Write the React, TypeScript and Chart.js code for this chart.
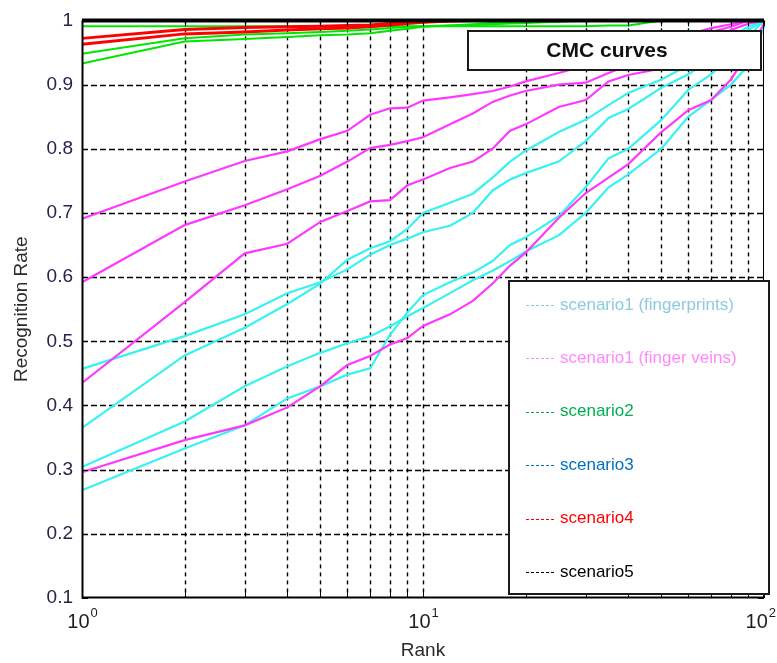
import React, { useEffect, useRef } from 'react';
import { Chart, registerables } from 'chart.js';
Chart.register(...registerables);

// ---------- data ----------
const ranks = [1, 2, 3, 4, 5, 6, 7, 8, 9, 10, 12, 14, 16, 18, 20, 25, 30, 35, 40, 50, 60, 70, 80, 90, 100];

// scenario1 (fingerprints) – four cyan curves
const fpA = [0.457, 0.508, 0.542, 0.575, 0.592, 0.612, 0.635, 0.650, 0.660, 0.670, 0.680, 0.700, 0.735, 0.752, 0.762, 0.780, 0.812, 0.848, 0.862, 0.895, 0.916, 0.940, 0.965, 0.985, 1.0];
const fpB = [0.365, 0.478, 0.521, 0.558, 0.590, 0.627, 0.645, 0.656, 0.675, 0.700, 0.716, 0.730, 0.755, 0.780, 0.797, 0.826, 0.845, 0.868, 0.887, 0.908, 0.930, 0.950, 0.975, 0.990, 1.0];
const fpC = [0.304, 0.375, 0.430, 0.461, 0.482, 0.497, 0.508, 0.523, 0.539, 0.552, 0.575, 0.595, 0.610, 0.625, 0.640, 0.665, 0.700, 0.740, 0.760, 0.800, 0.850, 0.876, 0.900, 0.930, 0.990];
const fpD = [0.268, 0.333, 0.369, 0.411, 0.430, 0.448, 0.458, 0.510, 0.545, 0.572, 0.592, 0.607, 0.625, 0.650, 0.662, 0.695, 0.740, 0.785, 0.800, 0.845, 0.892, 0.916, 0.945, 0.975, 1.0];

// scenario1 (finger veins) – four magenta curves
const fvA = [0.691, 0.749, 0.781, 0.796, 0.815, 0.828, 0.853, 0.863, 0.864, 0.875, 0.880, 0.885, 0.890, 0.897, 0.905, 0.918, 0.930, 0.940, 0.950, 0.965, 0.978, 0.988, 0.994, 1.0, 1.0];
const fvB = [0.592, 0.681, 0.712, 0.737, 0.758, 0.780, 0.801, 0.806, 0.812, 0.818, 0.838, 0.855, 0.873, 0.883, 0.890, 0.900, 0.903, 0.918, 0.930, 0.950, 0.968, 0.982, 0.990, 1.0, 1.0];
const fvC = [0.435, 0.561, 0.637, 0.652, 0.686, 0.703, 0.718, 0.720, 0.743, 0.752, 0.770, 0.780, 0.800, 0.828, 0.838, 0.865, 0.876, 0.905, 0.915, 0.925, 0.945, 0.968, 0.985, 0.995, 1.0];
const fvD = [0.296, 0.346, 0.369, 0.397, 0.430, 0.463, 0.477, 0.495, 0.505, 0.524, 0.542, 0.563, 0.590, 0.618, 0.638, 0.692, 0.731, 0.755, 0.776, 0.826, 0.860, 0.876, 0.908, 0.950, 0.995];

// scenario2 – three green curves
const sc2A = [0.991, 0.991, 0.991, 0.991, 0.991, 0.991, 0.991, 0.991, 0.991, 0.991, 0.991, 0.991, 0.991, 0.991, 0.991, 0.991, 0.991, 0.992, 0.992, 1.0, 1.0, 1.0, 1.0, 1.0, 1.0];
const sc2B = [0.948, 0.972, 0.978, 0.980, 0.982, 0.984, 0.986, 0.988, 0.990, 0.991, 0.992, 0.993, 0.994, 0.995, 0.996, 0.998, 1.0, 1.0, 1.0, 1.0, 1.0, 1.0, 1.0, 1.0, 1.0];
const sc2C = [0.933, 0.967, 0.971, 0.974, 0.977, 0.978, 0.980, 0.984, 0.987, 0.990, 0.992, 0.994, 0.996, 0.998, 1.0, 1.0, 1.0, 1.0, 1.0, 1.0, 1.0, 1.0, 1.0, 1.0, 1.0];

// scenario3 – blue
const sc3 = [1, 1, 1, 1, 1, 1, 1, 1, 1, 1, 1, 1, 1, 1, 1, 1, 1, 1, 1, 1, 1, 1, 1, 1, 1];

// scenario4 – red
const sc4A = [0.972, 0.986, 0.989, 0.990, 0.991, 0.992, 0.993, 0.995, 0.997, 0.998, 1.0, 1.0, 1.0, 1.0, 1.0, 1.0, 1.0, 1.0, 1.0, 1.0, 1.0, 1.0, 1.0, 1.0, 1.0];
const sc4B = [0.963, 0.979, 0.982, 0.985, 0.987, 0.988, 0.990, 0.993, 0.995, 0.997, 0.999, 1.0, 1.0, 1.0, 1.0, 1.0, 1.0, 1.0, 1.0, 1.0, 1.0, 1.0, 1.0, 1.0, 1.0];

// scenario5 – black
const sc5 = [1, 1, 1, 1, 1, 1, 1, 1, 1, 1, 1, 1, 1, 1, 1, 1, 1, 1, 1, 1, 1, 1, 1, 1, 1];

const xTickValues = [1, 2, 3, 4, 5, 6, 7, 8, 9, 10, 20, 30, 40, 50, 60, 70, 80, 90, 100];
const xLabelValues = [1, 10, 100];
const xLabelExponents = ['0', '1', '2'];

const legendLabels = [
  'scenario1 (fingerprints)',
  'scenario1 (finger veins)',
  'scenario2',
  'scenario3',
  'scenario4',
  'scenario5',
];
const legendColors = ['#8ccbdd', '#ff88ff', '#00b050', '#0070c0', '#ff0000', '#000000'];

const chartTitle = 'CMC curves';
const xTitle = 'Rank';
const yTitle = 'Recognition Rate';

const CYAN = '#38f2f2';
const MAGENTA = '#ff38ff';
const GREEN = '#00e600';
const RED = '#ff0000';
const BLUE = '#0000ff';
const BLACK = '#000000';

const FONT = "'Liberation Sans', Arial, sans-serif";

export default function App() {
  const ref = useRef<HTMLCanvasElement>(null);

  useEffect(() => {
    const mk = (vals: number[], color: string, width = 2.2) => ({
      data: ranks.map((r, i) => ({ x: r, y: vals[i] })),
      borderColor: color,
      backgroundColor: color,
      borderWidth: width,
      pointRadius: 0,
      tension: 0,
      fill: false,
      clip: 4,
    });

    // index 0 is drawn on top
    const datasets = [
      mk(sc5, BLACK, 4),
      mk(sc4A, RED, 3),
      mk(sc4B, RED, 3),
      mk(sc3, BLUE, 2),
      mk(sc2A, GREEN, 2),
      mk(sc2B, GREEN, 2),
      mk(sc2C, GREEN, 2),
      mk(fvA, MAGENTA),
      mk(fvB, MAGENTA),
      mk(fvC, MAGENTA),
      mk(fvD, MAGENTA),
      mk(fpA, CYAN),
      mk(fpB, CYAN),
      mk(fpC, CYAN),
      mk(fpD, CYAN),
    ];

    const overlay = {
      id: 'overlay',
      beforeDatasetsDraw(chart: any) {
        const { ctx, chartArea: a, scales } = chart;
        const x = scales.x;
        const y = scales.y;
        ctx.save();
        ctx.strokeStyle = '#000';
        ctx.lineWidth = 1.4;
        ctx.setLineDash([4, 4]);
        for (const t of x.ticks) {
          const px = Math.round(x.getPixelForValue(t.value)) + 0.5;
          if (px <= a.left + 2 || px >= a.right - 2) continue;
          ctx.beginPath();
          ctx.moveTo(px, a.top);
          ctx.lineTo(px, a.bottom);
          ctx.stroke();
        }
        ctx.setLineDash([6, 3]);
        for (const t of y.ticks) {
          const py = Math.round(y.getPixelForValue(t.value)) + 0.5;
          if (py <= a.top + 2 || py >= a.bottom - 2) continue;
          ctx.beginPath();
          ctx.moveTo(a.left, py);
          ctx.lineTo(a.right, py);
          ctx.stroke();
        }
        ctx.restore();
      },
      afterDatasetsDraw(chart: any) {
        const { ctx, chartArea: a, scales } = chart;
        const x = scales.x;
        const y = scales.y;
        ctx.save();
        // plot border
        ctx.setLineDash([]);
        ctx.strokeStyle = '#000';
        ctx.lineWidth = 1;
        ctx.strokeRect(Math.round(a.left) + 0.5, Math.round(a.top) + 0.5, Math.round(a.right - a.left) - 1, Math.round(a.bottom - a.top) - 1);
        ctx.lineWidth = 2;
        ctx.beginPath();
        ctx.moveTo(Math.round(a.left) + 0.5, a.top);
        ctx.lineTo(Math.round(a.left) + 0.5, a.bottom - 0.5);
        ctx.lineTo(a.right, a.bottom - 0.5);
        ctx.stroke();
        // inner tick marks
        ctx.lineWidth = 1;
        for (const t of x.ticks) {
          const px = Math.round(x.getPixelForValue(t.value)) + 0.5;
          ctx.beginPath();
          ctx.moveTo(px, a.bottom);
          ctx.lineTo(px, a.bottom - 6);
          ctx.moveTo(px, a.top);
          ctx.lineTo(px, a.top + 6);
          ctx.stroke();
        }
        for (const t of y.ticks) {
          const py = Math.round(y.getPixelForValue(t.value)) + 0.5;
          ctx.beginPath();
          ctx.moveTo(a.left, py);
          ctx.lineTo(a.left + 6, py);
          ctx.moveTo(a.right, py);
          ctx.lineTo(a.right - 6, py);
          ctx.stroke();
        }

        // title box
        ctx.fillStyle = '#fff';
        ctx.fillRect(467, 31, 294, 39);
        ctx.strokeStyle = '#1a1a1a';
        ctx.lineWidth = 2;
        ctx.strokeRect(468, 31, 293, 39);
        ctx.fillStyle = '#111';
        ctx.font = `bold 21px ${FONT}`;
        ctx.textAlign = 'center';
        ctx.textBaseline = 'middle';
        ctx.fillText(chartTitle, 607, 51);

        // legend box
        ctx.fillStyle = '#fff';
        ctx.fillRect(508, 280, 261, 314);
        ctx.strokeStyle = '#1a1a1a';
        ctx.lineWidth = 2;
        ctx.strokeRect(509, 281, 260, 313);
        ctx.font = `17px ${FONT}`;
        ctx.textAlign = 'left';
        ctx.textBaseline = 'middle';
        legendLabels.forEach((lab, i) => {
          const ly = 305 + i * 53.4;
          ctx.strokeStyle = legendColors[i];
          ctx.lineWidth = 1;
          ctx.setLineDash([3, 2]);
          ctx.beginPath();
          ctx.moveTo(526, Math.round(ly) + 0.5);
          ctx.lineTo(554, Math.round(ly) + 0.5);
          ctx.stroke();
          ctx.setLineDash([]);
          ctx.fillStyle = legendColors[i];
          ctx.fillText(lab, 560, ly);
        });

        // x tick labels 10^n
        ctx.fillStyle = '#1e1e1e';
        ctx.textBaseline = 'alphabetic';
        xLabelValues.forEach((v, i) => {
          const px = x.getPixelForValue(v);
          ctx.font = `20px ${FONT}`;
          const wBase = ctx.measureText('10').width;
          ctx.font = `13px ${FONT}`;
          const wExp = ctx.measureText(xLabelExponents[i]).width;
          let left = px - (wBase + wExp) / 2;
          if (left + wBase + wExp + 1 > 776) left = 776 - wBase - wExp - 1;
          ctx.font = `20px ${FONT}`;
          ctx.textAlign = 'left';
          ctx.fillText('10', left, 628);
          ctx.font = `13px ${FONT}`;
          ctx.fillText(xLabelExponents[i], left + wBase + 1, 617);
        });

        // axis titles
        ctx.fillStyle = '#2a2a2a';
        ctx.font = `19px ${FONT}`;
        ctx.textAlign = 'center';
        ctx.textBaseline = 'middle';
        ctx.fillText(xTitle, (a.left + a.right) / 2, 651);
        ctx.save();
        ctx.translate(22, (a.top + a.bottom) / 2);
        ctx.rotate(-Math.PI / 2);
        ctx.fillText(yTitle, 0, 0);
        ctx.restore();

        ctx.restore();
      },
    };

    const chart = new Chart(ref.current as HTMLCanvasElement, {
      type: 'line',
      data: { datasets: datasets as any },
      options: {
        responsive: false,
        animation: false,
        devicePixelRatio: 1,
        parsing: true,
        layout: { padding: { top: 18, right: 13, left: 0, bottom: 0 } },
        plugins: {
          legend: { display: false },
          tooltip: { enabled: false },
          title: { display: false },
        },
        scales: {
          x: {
            type: 'logarithmic',
            min: 1,
            max: 100,
            grid: { display: false },
            border: { display: false },
            afterBuildTicks: (s: any) => {
              s.ticks = xTickValues.map((v) => ({ value: v }));
            },
            ticks: { autoSkip: false, callback: () => '' },
            afterFit: (s: any) => {
              s.height = 65;
            },
          },
          y: {
            type: 'linear',
            min: 0.1,
            max: 1,
            grid: { display: false, drawTicks: false },
            border: { display: false },
            ticks: {
              stepSize: 0.1,
              padding: 9,
              color: '#24244a',
              font: { family: FONT, size: 19 },
              callback: (v: any) => (Math.abs(v - 1) < 1e-9 ? '1' : Number(v).toFixed(1)),
            },
            afterFit: (s: any) => {
              s.width = 82;
            },
          },
        },
      } as any,
      plugins: [overlay],
    });
    return () => chart.destroy();
  }, []);

  return (
    <div style={{ position: 'fixed', left: 0, top: 0, width: 777, height: 663, background: '#fff' }}>
      <canvas ref={ref} width={777} height={663} style={{ display: 'block', width: 777, height: 663 }} />
    </div>
  );
}
